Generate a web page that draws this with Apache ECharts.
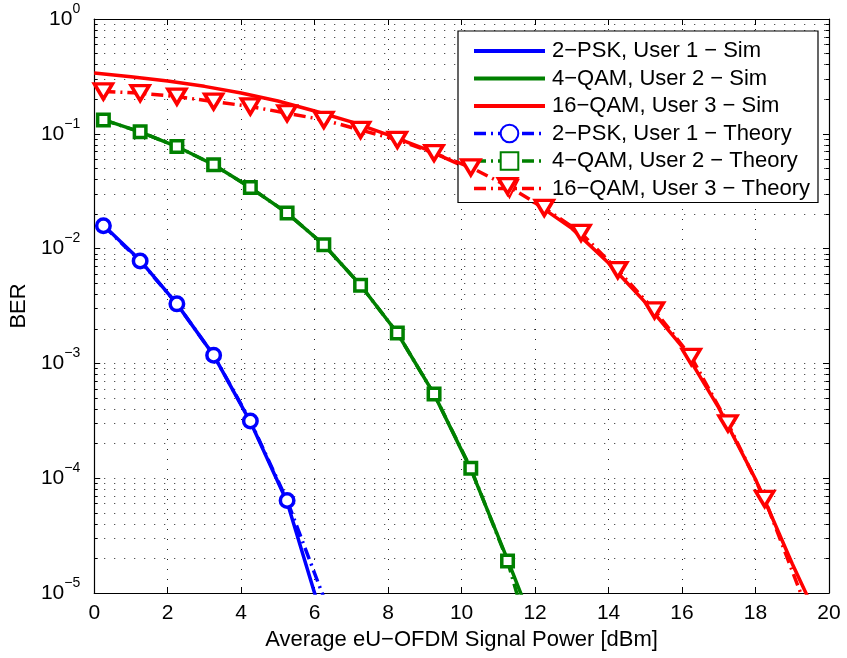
<!DOCTYPE html>
<html><head><meta charset="utf-8">
<script src="https://cdn.jsdelivr.net/npm/echarts@6/dist/echarts.min.js"></script>
<style>html,body{margin:0;padding:0;background:#fff}#c{width:847px;height:658px}</style>
</head><body><div id="c"></div>
<script>
const FONT = '"Liberation Sans", Arial, Helvetica, sans-serif';

// ---- data ----
const xTickValues = [0, 2, 4, 6, 8, 10, 12, 14, 16, 18, 20];
const yMajorValues = [1e-5, 1e-4, 1e-3, 1e-2, 1e-1, 1];

const bpskSimX = [0.25, 1.25, 2.25, 3.25, 4.25, 5.25, 6.25];
const bpskSimY = [0.0160, 0.0079, 0.0033, 0.00118, 3.1e-4, 6.2e-5, 5.4e-6];
const qam4SimX = [0.25, 1.25, 2.25, 3.25, 4.25, 5.25, 6.25, 7.25, 8.25, 9.25, 10.25, 11.25, 12.25];
const qam4SimY = [0.133, 0.104, 0.0775, 0.0537, 0.034, 0.0204, 0.0108, 0.0048, 0.00184, 5.4e-4, 1.2e-4, 1.95e-5, 3.0e-6];
const qam16SimX = [0, 1, 2, 3, 4, 5, 6, 7, 8, 9, 10, 11, 12, 13, 14, 15, 16, 17, 18, 19, 20];
const qam16SimY = [0.338, 0.314, 0.288, 0.259, 0.227, 0.193, 0.158, 0.127, 0.098, 0.074, 0.053, 0.037, 0.025, 0.015, 0.0075, 0.0034, 0.0014, 4.1e-4, 9.8e-5, 1.8e-5, 3.7e-6];

const bpskThX = [0.25, 1.25, 2.25, 3.25, 4.25, 5.25, 6.25];
const bpskThY = [0.0158, 0.0078, 0.0033, 0.00118, 3.15e-4, 6.4e-5, 9.1e-6];
const qam4ThX = [0.25, 1.25, 2.25, 3.25, 4.25, 5.25, 6.25, 7.25, 8.25, 9.25, 10.25, 11.25, 12.25];
const qam4ThY = [0.132, 0.104, 0.0775, 0.0537, 0.034, 0.0204, 0.0108, 0.0048, 0.00184, 5.4e-4, 1.22e-4, 1.9e-5, 1.45e-6];
const qam16ThX = [0.25, 1.25, 2.25, 3.25, 4.25, 5.25, 6.25, 7.25, 8.25, 9.25, 10.25, 11.25, 12.25, 13.25, 14.25, 15.25, 16.25, 17.25, 18.25, 19.25];
const qam16ThY = [0.234, 0.226, 0.211, 0.191, 0.173, 0.151, 0.132, 0.108, 0.0885, 0.068, 0.051, 0.035, 0.0226, 0.0137, 0.0065, 0.0029, 0.00114, 3.0e-4, 6.6e-5, 9.6e-6];

const names = [
  '2\u2212PSK, User 1 \u2212 Sim',
  '4\u2212QAM, User 2 \u2212 Sim',
  '16\u2212QAM, User 3 \u2212 Sim',
  '2\u2212PSK, User 1 \u2212 Theory',
  '4\u2212QAM, User 2 \u2212 Theory',
  '16\u2212QAM, User 3 \u2212 Theory'
];
const BLUE = '#0000ff', GREEN = '#008000', RED = '#ff0000';

// gridline positions for the log axis (minor decades 2..9)
const yMinorValues = [];
for (let e = -5; e < 0; e++) for (let m = 2; m <= 9; m++) yMinorValues.push(m * Math.pow(10, e));

const zip = (xs, ys) => xs.map((x, i) => [x, ys[i]]);
const DASHDOT = [12, 5, 2, 5];

function simSeries(name, color, xs, ys) {
  return { name, type: 'line', xAxisIndex: 0, yAxisIndex: 0, data: zip(xs, ys),
    showSymbol: false, symbol: 'none', clip: true, smooth: false,
    lineStyle: { color, width: 3.5 }, itemStyle: { color }, z: 3 };
}
function thSeries(name, color, xs, ys, symbol, size, rot) {
  return { name, type: 'line', xAxisIndex: 0, yAxisIndex: 0, data: zip(xs, ys),
    symbol, symbolSize: size, symbolRotate: rot || 0, showSymbol: true, clip: true,
    lineStyle: { color, width: 3.5, type: DASHDOT },
    itemStyle: { color: '#fff', borderColor: color, borderWidth: 3.5 }, z: 4 };
}

function supLabel(v) {
  const e = Math.round(Math.log10(v));
  return '{b|10}{s|' + (e < 0 ? '\u2212' + (-e) : String(e)) + '}';
}
const axisLineStyle = { lineStyle: { color: '#000', width: 1.2 } };
const dotted = { color: '#222', width: 1, type: [1, 9] };
const legendColors = [BLUE, GREEN, RED, BLUE, GREEN, RED];

const option = {
  backgroundColor: '#fff',
  animation: false,
  grid: { left: 92, right: 18, top: 19, bottom: 65, show: false, containLabel: false },
  legend: {
    show: true, selectedMode: false, orient: 'vertical',
    left: 458, top: 31,
    padding: [9, 8, 3, 14],
    itemWidth: 71, itemHeight: 22, itemGap: 5.5,
    backgroundColor: '#fff', borderColor: '#000', borderWidth: 1.2,
    textStyle: { fontFamily: FONT, fontSize: 22, lineHeight: 22, color: '#000', padding: [0, 0, 0, 2] },
    data: names.map((n, i) => i < 3
      ? { name: n, itemStyle: { opacity: 0 }, lineStyle: { color: legendColors[i], width: 4, type: 'solid' } }
      : { name: n, lineStyle: { color: legendColors[i], width: 3.5, type: DASHDOT } })
  },
  xAxis: [
    { type: 'value', min: 0, max: 20, interval: 2, position: 'bottom',
      name: 'Average eU\u2212OFDM Signal Power [dBm]', nameLocation: 'middle', nameGap: 35,
      nameTextStyle: { fontFamily: FONT, fontSize: 22, color: '#000' },
      axisLine: axisLineStyle, axisTick: { inside: true, length: 6, lineStyle: { color: '#000' } },
      axisLabel: { fontFamily: FONT, fontSize: 21, color: '#000', margin: 10 },
      splitLine: { show: true, lineStyle: dotted } },
    { type: 'value', min: 0, max: 20, interval: 2, position: 'top',
      axisLine: axisLineStyle, axisTick: { inside: true, length: 6, lineStyle: { color: '#000' } },
      axisLabel: { show: false }, splitLine: { show: false } }
  ],
  yAxis: [
    { type: 'log', min: 1e-5, max: 1, logBase: 10, position: 'left',
      name: 'BER', nameLocation: 'middle', nameGap: 60,
      nameTextStyle: { fontFamily: FONT, fontSize: 22, color: '#000' },
      axisLine: axisLineStyle,
      axisTick: { inside: true, length: 6, lineStyle: { color: '#000' } },
      axisLabel: { margin: 14, formatter: supLabel,
        rich: { b: { fontFamily: FONT, fontSize: 21, color: '#000', lineHeight: 34, verticalAlign: 'middle' },
                s: { fontFamily: FONT, fontSize: 14, color: '#000', lineHeight: 14, verticalAlign: 'top' } } },
      splitLine: { show: true, lineStyle: dotted } },
    { type: 'log', min: 1e-5, max: 1, logBase: 10, position: 'left',
      axisLine: { show: false },
      axisTick: { show: true, inside: true, length: 3.5, customValues: yMinorValues, lineStyle: { color: '#000' } },
      axisLabel: { show: false },
      splitLine: { show: true, lineStyle: dotted } },
    { type: 'log', min: 1e-5, max: 1, logBase: 10, position: 'right',
      axisLine: axisLineStyle,
      axisTick: { inside: true, length: 6, lineStyle: { color: '#000' } },
      axisLabel: { show: false }, splitLine: { show: false } },
    { type: 'log', min: 1e-5, max: 1, logBase: 10, position: 'right',
      axisLine: { show: false },
      axisTick: { show: true, inside: true, length: 3.5, customValues: yMinorValues, lineStyle: { color: '#000' } },
      axisLabel: { show: false }, splitLine: { show: false } }
  ],
  series: [
    simSeries(names[0], BLUE, bpskSimX, bpskSimY),
    simSeries(names[1], GREEN, qam4SimX, qam4SimY),
    simSeries(names[2], RED, qam16SimX, qam16SimY),
    thSeries(names[3], BLUE, bpskThX, bpskThY, 'circle', 13.5),
    thSeries(names[4], GREEN, qam4ThX, qam4ThY, 'rect', 11.5),
    thSeries(names[5], RED, qam16ThX, qam16ThY, 'triangle', [18, 15], 180)
  ]
};

const chart = echarts.init(document.getElementById('c'), null, { renderer: 'canvas' });
chart.setOption(option);
</script>
</body></html>
